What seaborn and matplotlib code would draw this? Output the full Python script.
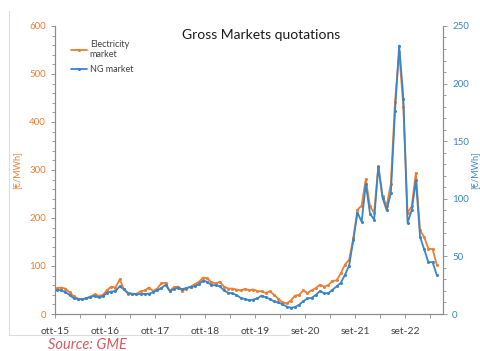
import numpy as np
import pandas as pd
import seaborn as sns
import matplotlib.pyplot as plt
from matplotlib.ticker import MultipleLocator

# monthly averages, ott-15 .. mag-23
electricity = [54, 55, 53, 45, 37, 32, 31, 33, 36, 41, 38, 40,
               50, 57, 55, 72, 52, 42, 42, 42, 47, 49, 55, 48,
               53, 64, 65, 48, 56, 57, 48, 53, 57, 62, 67, 76,
               74, 66, 64, 67, 57, 53, 53, 51, 49, 52, 50, 51,
               48, 47, 44, 47, 40, 32, 24, 22, 28, 38, 40, 49,
               44, 49, 54, 61, 57, 60, 69, 70, 85, 103, 113, 158,
               217, 226, 281, 224, 211, 308, 246, 225, 271, 442, 546, 431,
               211, 224, 294, 174, 160, 136, 135, 103]
ng = [21, 20.5, 19, 16.5, 13.7, 13, 12.8, 13.5, 15, 15.5, 14.5, 15.3,
      18.5, 19.5, 19.8, 24, 21.5, 18.3, 17.6, 17.4, 17.2, 17.5, 17.6, 18.8,
      20.5, 22.6, 25.3, 20, 21.5, 23, 21.5, 22.6, 23.5, 24, 26, 29,
      28, 25, 25, 24, 20.5, 18.5, 18, 16.5, 14, 13, 12, 12.5,
      13.5, 16, 14.5, 13, 11, 10, 8.5, 6.5, 5.5, 6, 8, 11,
      13.5, 14, 16.5, 20, 18, 18, 21, 24, 27, 34, 42, 64,
      88, 80, 113, 87, 82, 128, 101, 90, 105, 176, 233, 187,
      79, 90, 116, 67, 56, 45, 45, 34]
tick_labels = ["ott-15", "ott-16", "ott-17", "ott-18", "ott-19", "set-20", "set-21", "set-22"]

orange = "#ED7D31"
blue = "#3A85C8"

df = pd.DataFrame({"pos": np.arange(len(electricity)) + 0.5,
                   "electricity": electricity, "ng": ng})

sns.set_style("white")
plt.rcParams["font.family"] = ["Lato", "DejaVu Sans"]

fig = plt.figure(figsize=(4.81, 3.51), dpi=100)
ax = fig.add_axes([0.1143, 0.1054, 0.8067, 0.8206])
ax2 = ax.twinx()

sns.lineplot(data=df, x="pos", y="electricity", ax=ax, color=orange, lw=1.3,
             marker="o", markersize=2.2, markeredgewidth=0, label="Electricity\nmarket", legend=False)
sns.lineplot(data=df, x="pos", y="ng", ax=ax2, color=blue, lw=1.3,
             marker="o", markersize=2.2, markeredgewidth=0, label="NG market", legend=False)

ax.set_xlim(0, 93)
ax.set_ylim(0, 600)
ax2.set_ylim(0, 250)
ax.set_xticks(np.arange(0, 91, 6))
ax.set_xticklabels([tick_labels[i // 2] if i % 2 == 0 else "" for i in range(16)])
ax.yaxis.set_major_locator(MultipleLocator(100))
ax.yaxis.set_minor_locator(MultipleLocator(20))
ax2.yaxis.set_major_locator(MultipleLocator(50))
ax2.yaxis.set_minor_locator(MultipleLocator(10))

for a in (ax, ax2):
    a.set_xlabel("")
    a.spines["top"].set_visible(False)
    for s in ("left", "right", "bottom"):
        a.spines[s].set_color("#8c8c8c")
        a.spines[s].set_linewidth(0.8)
    a.tick_params(which="both", direction="out", color="#8c8c8c", width=0.6)
    a.tick_params(which="major", length=3)
    a.tick_params(which="minor", length=2)

ax.tick_params(axis="x", labelsize=7.5, labelcolor="#404040", bottom=True, length=3, pad=6)
ax.tick_params(axis="y", which="both", left=True, labelsize=7, labelcolor=orange)
ax2.tick_params(axis="y", which="both", right=True, labelsize=7, labelcolor=blue)

ax.set_ylabel("[€/MWh]", color=orange, fontsize=6.5, labelpad=6)
ax2.set_ylabel("[€/MWh]", color=blue, fontsize=6.5, labelpad=1, rotation=90)

ax.text(0.53, 0.99, "Gross Markets quotations", transform=ax.transAxes,
        ha="center", va="top", fontsize=10, color="#1a1a1a")

h1, l1 = ax.get_legend_handles_labels()
h2, l2 = ax2.get_legend_handles_labels()
ax2.legend(h1 + h2, l1 + l2, loc="upper left", bbox_to_anchor=(0.02, 0.98),
           frameon=False, fontsize=6.5, handlelength=1.8, handletextpad=0.3,
           labelspacing=0.6, labelcolor="#404040")

fig.text(0.10, 0.016, "Source: GME", color="#D05C64", fontsize=10.5, style="italic", va="center")
fig.add_artist(plt.Line2D([0.019, 0.019], [0.045, 0.97], color="#dddddd", lw=0.8))
fig.add_artist(plt.Line2D([0.019, 0.6], [0.045, 0.045], color="#dddddd", lw=0.8))

fig.savefig("out.png", dpi=100)
